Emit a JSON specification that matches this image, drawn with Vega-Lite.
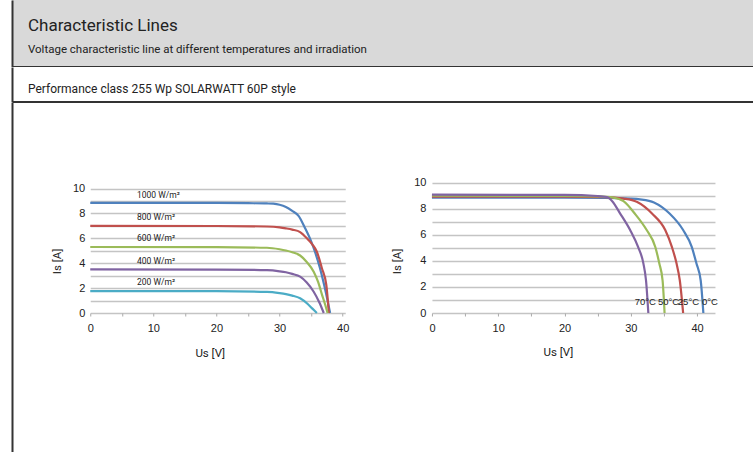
{
  "$schema": "https://vega.github.io/schema/vega-lite/v6.json",
  "padding": {"left": 12, "top": 0, "right": 0, "bottom": 0},
  "background": "white",
  "spacing": 0,
  "config": {
    "font": "Roboto",
    "view": {"stroke": null},
    "axis": {"labelFont": "Liberation Sans", "titleFont": "Roboto", "titleFontWeight": "normal", "labelColor": "#222", "titleColor": "#222", "labelOverlap": false}
  },
  "datasets": {
    "irr": [
      {"series": "1000 W/m²", "U": 0, "I": 8.85}, {"series": "1000 W/m²", "U": 10, "I": 8.85}, {"series": "1000 W/m²", "U": 20, "I": 8.84}, {"series": "1000 W/m²", "U": 25, "I": 8.82}, {"series": "1000 W/m²", "U": 28, "I": 8.8}, {"series": "1000 W/m²", "U": 29, "I": 8.78}, {"series": "1000 W/m²", "U": 30, "I": 8.7}, {"series": "1000 W/m²", "U": 31, "I": 8.52}, {"series": "1000 W/m²", "U": 32, "I": 8.2}, {"series": "1000 W/m²", "U": 33, "I": 7.8}, {"series": "1000 W/m²", "U": 34, "I": 6.85}, {"series": "1000 W/m²", "U": 35, "I": 5.75}, {"series": "1000 W/m²", "U": 35.6, "I": 4.92}, {"series": "1000 W/m²", "U": 36.4, "I": 3.6}, {"series": "1000 W/m²", "U": 37.06, "I": 2.25}, {"series": "1000 W/m²", "U": 37.6, "I": 1.0}, {"series": "1000 W/m²", "U": 38, "I": 0},
      {"series": "800 W/m²", "U": 0, "I": 7.0}, {"series": "800 W/m²", "U": 20, "I": 6.99}, {"series": "800 W/m²", "U": 28, "I": 6.95}, {"series": "800 W/m²", "U": 30, "I": 6.88}, {"series": "800 W/m²", "U": 31, "I": 6.8}, {"series": "800 W/m²", "U": 32, "I": 6.7}, {"series": "800 W/m²", "U": 33.25, "I": 6.5}, {"series": "800 W/m²", "U": 34.5, "I": 5.9}, {"series": "800 W/m²", "U": 35.2, "I": 5.5}, {"series": "800 W/m²", "U": 35.9, "I": 4.92}, {"series": "800 W/m²", "U": 36.7, "I": 3.6}, {"series": "800 W/m²", "U": 37.4, "I": 2.25}, {"series": "800 W/m²", "U": 37.8, "I": 0},
      {"series": "600 W/m²", "U": 0, "I": 5.3}, {"series": "600 W/m²", "U": 20, "I": 5.29}, {"series": "600 W/m²", "U": 28, "I": 5.24}, {"series": "600 W/m²", "U": 30, "I": 5.12}, {"series": "600 W/m²", "U": 31, "I": 5.02}, {"series": "600 W/m²", "U": 32, "I": 4.88}, {"series": "600 W/m²", "U": 33.25, "I": 4.62}, {"series": "600 W/m²", "U": 34.3, "I": 4.1}, {"series": "600 W/m²", "U": 35.4, "I": 3.32}, {"series": "600 W/m²", "U": 36.1, "I": 2.5}, {"series": "600 W/m²", "U": 36.7, "I": 1.5}, {"series": "600 W/m²", "U": 37.2, "I": 0.7}, {"series": "600 W/m²", "U": 37.6, "I": 0},
      {"series": "400 W/m²", "U": 0, "I": 3.5}, {"series": "400 W/m²", "U": 20, "I": 3.49}, {"series": "400 W/m²", "U": 28, "I": 3.44}, {"series": "400 W/m²", "U": 30, "I": 3.35}, {"series": "400 W/m²", "U": 31, "I": 3.27}, {"series": "400 W/m²", "U": 32, "I": 3.14}, {"series": "400 W/m²", "U": 33.25, "I": 2.92}, {"series": "400 W/m²", "U": 34.3, "I": 2.45}, {"series": "400 W/m²", "U": 35.4, "I": 1.71}, {"series": "400 W/m²", "U": 36.3, "I": 0.85}, {"series": "400 W/m²", "U": 37.0, "I": 0},
      {"series": "200 W/m²", "U": 0, "I": 1.76}, {"series": "200 W/m²", "U": 20, "I": 1.75}, {"series": "200 W/m²", "U": 28, "I": 1.7}, {"series": "200 W/m²", "U": 30, "I": 1.6}, {"series": "200 W/m²", "U": 31, "I": 1.52}, {"series": "200 W/m²", "U": 32, "I": 1.4}, {"series": "200 W/m²", "U": 33.25, "I": 1.18}, {"series": "200 W/m²", "U": 34.5, "I": 0.7}, {"series": "200 W/m²", "U": 35.2, "I": 0.35}, {"series": "200 W/m²", "U": 35.9, "I": 0}
    ],
    "irrLabels": [
      {"label": "1000 W/m²", "U": 7.4, "I": 9.5},
      {"label": "800 W/m²", "U": 7.4, "I": 7.7},
      {"label": "600 W/m²", "U": 7.4, "I": 6.0},
      {"label": "400 W/m²", "U": 7.4, "I": 4.2},
      {"label": "200 W/m²", "U": 7.4, "I": 2.5}
    ],
    "temp": [
      {"series": "0°C", "U": 0, "I": 8.87}, {"series": "0°C", "U": 20, "I": 8.87}, {"series": "0°C", "U": 26, "I": 8.86}, {"series": "0°C", "U": 30, "I": 8.8}, {"series": "0°C", "U": 31.4, "I": 8.74}, {"series": "0°C", "U": 33.5, "I": 8.5}, {"series": "0°C", "U": 35.85, "I": 7.65}, {"series": "0°C", "U": 37.9, "I": 6.38}, {"series": "0°C", "U": 39.2, "I": 5.08}, {"series": "0°C", "U": 39.9, "I": 3.82}, {"series": "0°C", "U": 40.55, "I": 2.5}, {"series": "0°C", "U": 40.95, "I": 0},
      {"series": "25°C", "U": 0, "I": 8.95}, {"series": "25°C", "U": 20, "I": 8.95}, {"series": "25°C", "U": 26, "I": 8.92}, {"series": "25°C", "U": 28.9, "I": 8.8}, {"series": "25°C", "U": 30.9, "I": 8.55}, {"series": "25°C", "U": 33.2, "I": 7.65}, {"series": "25°C", "U": 35.2, "I": 6.38}, {"series": "25°C", "U": 36.2, "I": 5.08}, {"series": "25°C", "U": 36.9, "I": 3.82}, {"series": "25°C", "U": 37.4, "I": 2.5}, {"series": "25°C", "U": 37.9, "I": 0},
      {"series": "50°C", "U": 0, "I": 9.02}, {"series": "50°C", "U": 20, "I": 9.01}, {"series": "50°C", "U": 25, "I": 8.97}, {"series": "50°C", "U": 27.4, "I": 8.88}, {"series": "50°C", "U": 28.9, "I": 8.6}, {"series": "50°C", "U": 30.6, "I": 7.65}, {"series": "50°C", "U": 32.4, "I": 6.38}, {"series": "50°C", "U": 33.7, "I": 5.08}, {"series": "50°C", "U": 34.3, "I": 3.82}, {"series": "50°C", "U": 34.8, "I": 2.5}, {"series": "50°C", "U": 35.1, "I": 0},
      {"series": "70°C", "U": 0, "I": 9.1}, {"series": "70°C", "U": 20, "I": 9.08}, {"series": "70°C", "U": 25, "I": 9.0}, {"series": "70°C", "U": 26.4, "I": 8.92}, {"series": "70°C", "U": 27.2, "I": 8.6}, {"series": "70°C", "U": 28.4, "I": 7.65}, {"series": "70°C", "U": 29.9, "I": 6.38}, {"series": "70°C", "U": 31.1, "I": 5.08}, {"series": "70°C", "U": 31.9, "I": 3.82}, {"series": "70°C", "U": 32.3, "I": 2.5}, {"series": "70°C", "U": 32.65, "I": 0}
    ],
    "tempLabels": [
      {"label": "70°C", "U": 30.6, "I": 0.82},
      {"label": "50°C", "U": 34.1, "I": 0.82},
      {"label": "25°C", "U": 37.1, "I": 0.82},
      {"label": "0°C", "U": 40.75, "I": 0.82}
    ]
  },
  "vconcat": [
    {
      "width": 741,
      "height": 66.5,
      "view": {"fill": "#d9d9d9", "stroke": null},
      "title": {
        "text": "Characteristic Lines",
        "subtitle": "Voltage characteristic line at different temperatures and irradiation",
        "anchor": "start", "dx": 16, "offset": -56.5,
        "font": "Roboto", "fontSize": 17, "fontWeight": "normal", "color": "#222",
        "subtitleFont": "Roboto", "subtitleFontSize": 11.5, "subtitleColor": "#222", "subtitlePadding": 8.9
      },
      "data": {"values": []},
      "mark": "point",
      "encoding": {
        "x": {"field": "a", "type": "quantitative", "scale": {"domain": [0, 1]}, "axis": {"domain": true, "domainColor": "#333", "domainWidth": 2, "labels": false, "ticks": false, "grid": false, "title": null}},
        "y": {"field": "b", "type": "quantitative", "scale": {"domain": [0, 1]}, "axis": {"domain": true, "domainColor": "#333", "domainWidth": 2, "labels": false, "ticks": false, "grid": false, "title": null}}
      }
    },
    {
      "width": 741,
      "height": 34.5,
      "view": {"fill": "white", "stroke": null},
      "title": {
        "text": "Performance class 255 Wp SOLARWATT 60P style",
        "anchor": "start", "dx": 16, "offset": -28.5,
        "font": "Roboto", "fontSize": 12, "fontWeight": "normal", "color": "#222"
      },
      "data": {"values": []},
      "mark": "point",
      "encoding": {
        "x": {"field": "a", "type": "quantitative", "scale": {"domain": [0, 1]}, "axis": {"domain": true, "domainColor": "#333", "domainWidth": 2, "labels": false, "ticks": false, "grid": false, "title": null}},
        "y": {"field": "b", "type": "quantitative", "scale": {"domain": [0, 1]}, "axis": {"domain": true, "domainColor": "#333", "domainWidth": 2, "labels": false, "ticks": false, "grid": false, "title": null}}
      }
    },
    {
      "spacing": 38.25,
      "hconcat": [
        {
          "width": 0.5,
          "height": 352,
          "data": {"values": []},
          "mark": "point",
          "encoding": {
            "x": {"field": "a", "type": "quantitative", "scale": {"domain": [0, 1]}, "axis": null},
            "y": {"field": "b", "type": "quantitative", "scale": {"domain": [0, 1]}, "axis": {"domain": true, "domainColor": "#333", "domainWidth": 2, "labels": false, "ticks": false, "grid": false, "title": null}}
          }
        },
        {
          "spacing": 41.7,
          "hconcat": [
            {
              "width": 255,
              "height": 211,
              "layer": [
                {
                  "data": {"name": "irr"},
                  "mark": {"type": "line", "strokeWidth": 2.2, "interpolate": "monotone"},
                  "encoding": {
                    "x": {"field": "U", "type": "quantitative", "scale": {"domain": [0, 40.4], "nice": false},
                      "axis": {"values": [0, 5, 10, 15, 20, 25, 30, 35, 40], "tickCount": 50, "format": "d", "labelExpr": "datum.value % 10 === 0 ? datum.label : ''", "labelOverlap": false, "domain": false, "grid": false, "ticks": true, "tickSize": 3, "tickColor": "#aaa", "labelFontSize": 11, "labelPadding": 6.5, "labelFlush": false, "title": "Us [V]", "titleFontSize": 11.5, "titleX": 119.5, "titleY": 40, "titleBaseline": "middle"}},
                    "y": {"field": "I", "type": "quantitative", "scale": {"domain": [0, 16.95], "nice": false},
                      "axis": {"values": [0, 1, 2, 3, 4, 5, 6, 7, 8, 9, 10], "tickCount": 50, "format": "d", "labelExpr": "datum.value % 2 === 0 ? datum.label : ''", "labelOverlap": false, "domain": false, "ticks": false, "tickSize": 0, "grid": true, "gridColor": "#c4c4c4", "gridWidth": 1.5, "labelFontSize": 11, "labelPadding": 5.5, "title": "Is [A]", "titleFontSize": 11.5, "titleX": -32.5, "titleY": 159, "titleBaseline": "middle"}},
                    "color": {"field": "series", "type": "nominal", "scale": {"domain": ["1000 W/m²", "800 W/m²", "600 W/m²", "400 W/m²", "200 W/m²"], "range": ["#4F81BD", "#C0504D", "#9BBB59", "#8064A2", "#4BACC6"]}, "legend": null}
                  }
                },
                {
                  "data": {"name": "irrLabels"},
                  "mark": {"type": "text", "align": "left", "baseline": "middle", "font": "Roboto", "fontSize": 8.5, "color": "#222"},
                  "encoding": {
                    "x": {"field": "U", "type": "quantitative", "scale": {"domain": [0, 40.4], "nice": false}},
                    "y": {"field": "I", "type": "quantitative", "scale": {"domain": [0, 16.95], "nice": false}},
                    "text": {"field": "label"}
                  }
                }
              ]
            },
            {
              "width": 283,
              "height": 211,
              "layer": [
                {
                  "data": {"name": "temp"},
                  "mark": {"type": "line", "strokeWidth": 2.2, "interpolate": "monotone"},
                  "encoding": {
                    "x": {"field": "U", "type": "quantitative", "scale": {"domain": [0, 42.7], "nice": false},
                      "axis": {"values": [0, 5, 10, 15, 20, 25, 30, 35, 40], "tickCount": 50, "format": "d", "labelExpr": "datum.value % 10 === 0 ? datum.label : ''", "labelOverlap": false, "domain": false, "grid": false, "ticks": true, "tickSize": 3, "tickColor": "#aaa", "labelFontSize": 11, "labelPadding": 6.5, "labelFlush": false, "title": "Us [V]", "titleFontSize": 11.5, "titleX": 126, "titleY": 39, "titleBaseline": "middle"}},
                    "y": {"field": "I", "type": "quantitative", "scale": {"domain": [0, 16.23], "nice": false},
                      "axis": {"values": [0, 1, 2, 3, 4, 5, 6, 7, 8, 9, 10], "tickCount": 50, "format": "d", "labelExpr": "datum.value % 2 === 0 ? datum.label : ''", "labelOverlap": false, "domain": false, "ticks": false, "tickSize": 0, "grid": true, "gridColor": "#c4c4c4", "gridWidth": 1.5, "labelFontSize": 11, "labelPadding": 6, "title": "Is [A]", "titleFontSize": 11.5, "titleX": -34.5, "titleY": 159, "titleBaseline": "middle"}},
                    "color": {"field": "series", "type": "nominal", "scale": {"domain": ["0°C", "25°C", "50°C", "70°C"], "range": ["#4F81BD", "#C0504D", "#9BBB59", "#8064A2"]}, "legend": null}
                  }
                },
                {
                  "data": {"name": "tempLabels"},
                  "mark": {"type": "text", "align": "left", "baseline": "middle", "font": "Liberation Sans", "fontSize": 9.5, "color": "#222"},
                  "encoding": {
                    "x": {"field": "U", "type": "quantitative", "scale": {"domain": [0, 42.7], "nice": false}},
                    "y": {"field": "I", "type": "quantitative", "scale": {"domain": [0, 16.23], "nice": false}},
                    "text": {"field": "label"}
                  }
                }
              ]
            }
          ]
        }
      ]
    }
  ]
}
